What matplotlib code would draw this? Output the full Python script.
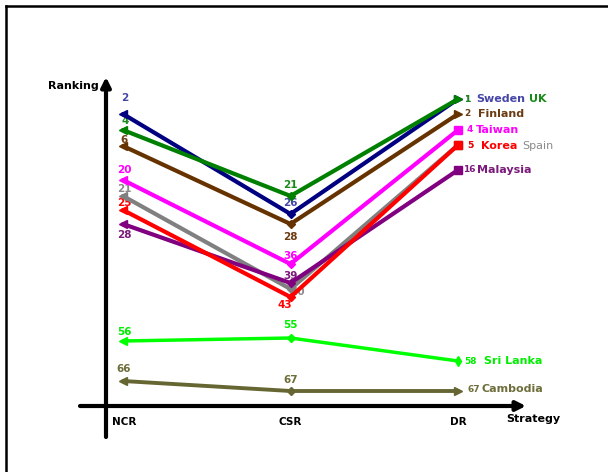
import numpy as np
import matplotlib
matplotlib.use('Agg')
import matplotlib.pyplot as plt
from matplotlib.lines import Line2D

plt.rcParams['font.family'] = ['DejaVu Sans']

# data
strategies = ['NCR', 'CSR', 'DR']
countries = ['Spain', 'Malaysia', 'Korea', 'Taiwan', 'Finland', 'Sweden', 'UK', 'Sri Lanka', 'Cambodia']
ncr_rank = [21, 28, 25, 20, 6, 2, 4, 56, 66]
csr_rank = [40, 39, 43, 36, 28, 26, 21, 55, 67]
dr_rank = [5, 16, 5, 4, 2, 1, 1, 58, 67]

line_colors = ['#808080', '#800080', '#ff0000', '#ff00ff', '#663300', '#000080', '#008000', '#00ff00', '#666633']
text_colors = ['#8a8a8a', '#7a1a7a', '#ff0000', '#ff00ff', '#6b3c12', '#4646a8', '#1a8a1a', '#00ee00', '#6e6e3c']
line_widths = [3, 3, 3, 3, 3, 3, 3, 2.5, 2.8]
dr_markers = ['s', 's', 's', 's', '>', '>', '>', 'd', '>']
dr_msize = [6, 6, 6, 6, 6, 6, 6, 5, 6]

# label offsets in pixels (dx, dy)
ncr_off = [(1, 7), (1, -11), (1, 7), (1, 10), (1, 6), (2, 16), (2, 9), (1, 9), (1, 12)]
csr_off = [(7, -3), (0, 7), (-6, -8), (0, 8), (0, -13), (0, 11), (0, 11), (0, 13), (0, 11)]
dr_num_dx = [9, 5, 9, 9, 6, 6, 6, 6, 9]
dr_name_dx = [64, 19, 23, 18, 20, 18, 71, 26, 24]
dr_dy = [-1, 0, -1, 0, 0, 0, 0, 0, 2]

# schematic (non-linear) rank scale of the original drawing
knot_rank = np.array([-30, 1, 2, 4, 5, 6, 16, 20, 21, 25, 26, 28, 36, 39, 40, 43, 55, 56, 58, 66, 67, 100])
knot_pix = np.array([0, 99, 114, 130, 145, 146, 170, 180, 196, 210, 214, 224, 264, 283, 289, 297,
                     338, 341, 361, 381, 391, 472], dtype=float)


def fwd(r):
    return np.interp(r, knot_rank, knot_pix)


def inv(p):
    return np.interp(p, knot_pix, knot_rank)


W, H = 608, 472
fig = plt.figure(figsize=(W / 100, H / 100), dpi=100)
ax = fig.add_axes([0, 0, 1, 1])
ax.set_yscale('function', functions=(fwd, inv))
ax.set_xlim(-123 / 167.5, (W - 123) / 167.5)
ax.set_ylim(100, -30)
ax.axis('off')


def fp(x, y):
    return (x / W, 1 - y / H)


# frame (top and left only)
fig.add_artist(Line2D([6 / W, 607 / W], [1 - 6 / H, 1 - 6 / H], color='k', lw=1.8, transform=fig.transFigure))
fig.add_artist(Line2D([6 / W, 6 / W], [1 - 6 / H, 0], color='k', lw=1.8, transform=fig.transFigure))

# axes with arrows
ax.annotate('', xy=fp(106, 77), xytext=fp(106, 437), xycoords='figure fraction', textcoords='figure fraction',
            arrowprops=dict(arrowstyle='-|>', color='k', lw=3, mutation_scale=14, shrinkA=0, shrinkB=0))
ax.annotate('', xy=fp(526, 406), xytext=fp(80, 406), xycoords='figure fraction', textcoords='figure fraction',
            arrowprops=dict(arrowstyle='-|>', color='k', lw=3, mutation_scale=14, shrinkA=0, shrinkB=0))

fig.text(*fp(48, 86), 'Ranking', fontsize=8, fontweight='bold', ha='left', va='center')
fig.text(*fp(506, 419), 'Strategy', fontsize=8, fontweight='bold', ha='left', va='center')
for i, s in enumerate(strategies):
    ax.annotate(s, (i, 1 - 422 / H), xycoords=('data', 'figure fraction'), xytext=(1 if i == 0 else 0, 0),
                textcoords='offset pixels', fontsize=7.5, fontweight='bold', ha='center', va='center')

x = np.arange(len(strategies))
for i, c in enumerate(countries):
    ys = [ncr_rank[i], csr_rank[i], dr_rank[i]]
    z = 3 + i
    ax.plot(x, ys, color=line_colors[i], lw=line_widths[i], solid_capstyle='round', zorder=z)
    ax.plot(x[:1], ys[:1], marker='<', ms=6, color=line_colors[i], zorder=z)
    ax.plot(x[1:2], ys[1:2], marker='D', ms=4, color=line_colors[i], zorder=z)
    ax.plot(x[2:], ys[2:], marker=dr_markers[i], ms=dr_msize[i], color=line_colors[i], zorder=z)

    ax.annotate(str(ncr_rank[i]), (0, ncr_rank[i]), xytext=ncr_off[i], textcoords='offset pixels',
                color=text_colors[i], fontsize=7.5, fontweight='bold', ha='center', va='center', zorder=2)
    ax.annotate(str(csr_rank[i]), (1, csr_rank[i]), xytext=csr_off[i], textcoords='offset pixels',
                color=text_colors[i], fontsize=7.5, fontweight='bold', ha='center', va='center', zorder=2)
    ax.annotate(str(dr_rank[i]), (2, dr_rank[i]), xytext=(dr_num_dx[i], dr_dy[i]), textcoords='offset pixels',
                color=text_colors[i], fontsize=6.5, fontweight='bold', ha='left', va='center', zorder=20 + i)
    ax.annotate(c, (2, dr_rank[i]), xytext=(dr_name_dx[i], dr_dy[i]), textcoords='offset pixels',
                color=text_colors[i], fontsize=8, fontweight='bold' if c != 'Spain' else 'normal',
                ha='left', va='center', zorder=20 + i)

fig.savefig('out.png', dpi=100)
